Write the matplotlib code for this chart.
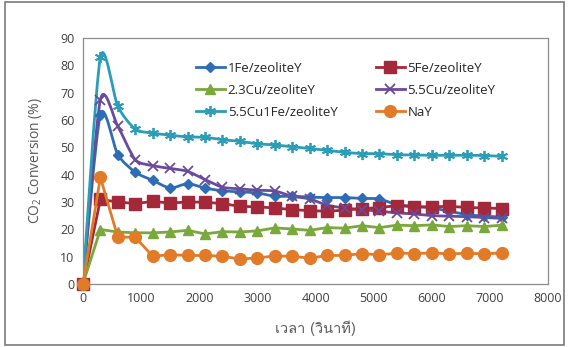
import numpy as np
import matplotlib
matplotlib.use("Agg")
import matplotlib.pyplot as plt
from matplotlib import font_manager
from matplotlib.ft2font import FT2Font
from matplotlib.path import Path
from matplotlib.patches import PathPatch, Rectangle
from matplotlib.lines import Line2D

# Time (s) and CO2 conversion (%) for each catalyst
time_s = [0, 300, 600, 900, 1200, 1500, 1800, 2100, 2400, 2700, 3000, 3300, 3600,
          3900, 4200, 4500, 4800, 5100, 5400, 5700, 6000, 6300, 6600, 6900, 7200]

fe1 = [0, 62, 47.3, 40.9, 37.9, 35.1, 36.7, 35.1, 34.1, 33.7, 33.3, 32.1, 32.1,
       31.8, 31.6, 31.6, 31.3, 31.1, 29.0, 28.4, 27.8, 26.6, 25.4, 24.8, 24.5]
fe5 = [0, 30.9, 30.0, 29.4, 30.2, 29.6, 30.0, 29.9, 29.4, 28.4, 28.2, 27.8, 27.2,
       26.8, 26.6, 27.0, 27.6, 27.9, 28.7, 28.2, 28.2, 28.4, 28.0, 27.8, 27.6]
cu23 = [0, 19.9, 19.0, 18.7, 18.7, 19.0, 19.6, 18.3, 19.1, 19.0, 19.4, 20.5, 20.1,
        19.6, 20.6, 20.4, 21.3, 20.6, 21.5, 21.3, 21.6, 21.0, 21.3, 21.0, 21.5]
cu55 = [0, 67.4, 57.7, 45.5, 43.3, 42.3, 41.2, 38.2, 35.4, 34.8, 34.3, 34.0, 32.1,
        31.1, 28.8, 27.8, 27.2, 26.6, 26.0, 25.6, 25.0, 24.8, 24.6, 24.3, 24.0]
cu55fe1 = [0, 83.0, 65.0, 56.7, 55.2, 54.5, 53.8, 53.7, 52.8, 52.2, 51.3, 50.9, 50.2,
           49.6, 48.9, 48.2, 47.7, 47.7, 47.3, 47.2, 47.1, 47.1, 47.1, 47.0, 46.7]
nay = [0, 39.0, 17.1, 17.1, 10.1, 10.7, 10.4, 10.4, 10.1, 9.1, 9.5, 10.2, 10.1,
       9.4, 10.4, 10.4, 11.1, 10.6, 11.3, 11.1, 11.3, 11.0, 11.2, 11.0, 11.3]

labels = ["1Fe/zeoliteY", "5Fe/zeoliteY", "2.3Cu/zeoliteY",
          "5.5Cu/zeoliteY", "5.5Cu1Fe/zeoliteY", "NaY"]


def thai_font():
    # pick an installed font that can draw Thai
    for f in font_manager.fontManager.ttflist:
        try:
            if FT2Font(f.fname).get_char_index(0x0E40):
                return f.name
        except Exception:
            pass
    return "DejaVu Sans"


plt.rcParams["font.family"] = ["Open Sans", "DejaVu Sans"]
plt.rcParams["mathtext.fontset"] = "custom"
plt.rcParams["mathtext.rm"] = "Open Sans"
plt.rcParams["mathtext.it"] = "Open Sans"
text_grey = "#595959"


def smooth_path(x, y, k=8.0):
    # cubic bezier through the points (Catmull-Rom style tangents)
    pts = np.column_stack([np.asarray(x, float), np.asarray(y, float)])
    verts = [pts[0]]
    codes = [Path.MOVETO]
    n = len(pts)
    for i in range(n - 1):
        p0 = pts[i - 1] if i > 0 else pts[i]
        p1 = pts[i]
        p2 = pts[i + 1]
        p3 = pts[i + 2] if i + 2 < n else pts[i + 1]
        verts += [p1 + (p2 - p0) / k, p2 - (p3 - p1) / k, p2]
        codes += [Path.CURVE4] * 3
    return Path(verts, codes)


fig = plt.figure(figsize=(5.68, 3.47), dpi=100)
ax = fig.add_axes([0.146, 0.182, 0.819, 0.708])

series = [
    # data, label, color, marker, size, smooth
    (fe1, labels[0], "#2E6DB4", "D", 5.5, True),
    (fe5, labels[1], "#A3283A", "s", 8.5, False),
    (cu23, labels[2], "#79A83B", "^", 7.5, False),
    (cu55, labels[3], "#6A4A9A", "x", 7, True),
    (cu55fe1, labels[4], "#2B9DB6", (6, 2, 0), 8, True),
    (nay, labels[5], "#E27B28", "o", 8.5, False),
]

lw = 2.0
handles = {}
for data, label, color, marker, size, smooth in series:
    mk = dict(marker=marker, markersize=size, color=color,
              markeredgecolor=color, markerfacecolor=color)
    if marker == "x" or isinstance(marker, tuple):
        mk["markeredgewidth"] = 1.3
    if smooth:
        ax.add_patch(PathPatch(smooth_path(time_s, data), fill=False,
                               edgecolor=color, lw=lw, zorder=2))
        ax.plot(time_s, data, linestyle="none", zorder=3, clip_on=False, **mk)
    else:
        ax.plot(time_s, data, linestyle="-", lw=lw, zorder=3, clip_on=False, **mk)
    handles[label] = Line2D([], [], lw=lw, **mk)

ax.set_xlim(0, 8000)
ax.set_ylim(0, 90)
ax.set_xticks(range(0, 8001, 1000))
ax.set_yticks(range(0, 91, 10))
ax.tick_params(length=0, labelsize=9, colors=text_grey, pad=6)
for s in ax.spines.values():
    s.set_color("#8c8c8c")
    s.set_linewidth(0.9)
for t in ax.get_xticklabels() + ax.get_yticklabels():
    t.set_color("#404040")

ax.set_ylabel("CO$_2$ Conversion (%)", fontsize=10, color=text_grey, labelpad=12)
ax.set_xlabel("เวลา (วินาที)", fontsize=10.5, color=text_grey, labelpad=11,
              family=[thai_font(), "DejaVu Sans"])

order = [labels[0], labels[2], labels[4], labels[1], labels[3], labels[5]]
ax.legend([handles[k] for k in order], order, ncol=2, frameon=False,
          loc="upper left", bbox_to_anchor=(0.243, 0.903), fontsize=9.5,
          borderaxespad=0, borderpad=0,
          handlelength=2.2, handletextpad=0.2, columnspacing=2.9,
          labelspacing=0.68, labelcolor="#262626")

# thin border round the whole chart
fig.patches.append(Rectangle((0.009, 0.006), 0.984, 0.988, transform=fig.transFigure,
                             fill=False, edgecolor="#7a7a7a", lw=1.2))

fig.savefig("out.png", dpi=100)
